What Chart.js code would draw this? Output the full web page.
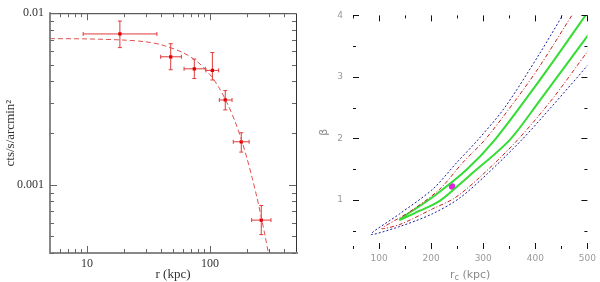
<!DOCTYPE html>
<html><head><meta charset="utf-8">
<script src="https://cdn.jsdelivr.net/npm/chart.js@4/dist/chart.umd.min.js"></script>
<style>
html,body{margin:0;padding:0;background:#fff;width:600px;height:282px;overflow:hidden}
canvas{position:absolute;top:0}
#l{left:0}
#r{left:300px}
</style></head><body>
<canvas id="l" width="300" height="282"></canvas>
<canvas id="r" width="300" height="282"></canvas>
<script>
// ---------- Left panel: surface brightness profile ----------
const rKpc   = [18.5, 47.9, 74.5, 104.5, 133, 179.5, 261];
const rLow   = [9.3, 39.7, 61.5, 92.7, 119, 154.5, 218];
const rHigh  = [37, 58.5, 91.6, 117.5, 151, 208, 313];
const sb     = [0.00757, 0.00557, 0.00474, 0.00464, 0.00312, 0.00178, 0.000622];
const sbLow  = [0.0063, 0.00468, 0.00416, 0.00408, 0.00273, 0.00155, 0.000512];
const sbHigh = [0.0090, 0.00664, 0.0054, 0.0059, 0.00354, 0.00201, 0.000757];

const modelR  = [5, 10, 20, 30, 40, 60, 80, 100, 120, 140, 160, 180, 200, 220, 240, 260, 280, 300];
const modelSb = [0.00711, 0.00708, 0.00697, 0.00681, 0.00655, 0.00590, 0.00517, 0.00438, 0.00362, 0.00292, 0.00233, 0.00183, 0.00142, 0.00110, 0.00085, 0.000655, 0.000505, 0.000391];

const leftXMajor = [10, 100];
const leftXMajorLabels = ['10', '100'];
const leftXMinor = [6, 7, 8, 9, 20, 30, 40, 50, 60, 70, 80, 90, 200, 300, 400];
const leftYMajor = [0.001, 0.01];
const leftYMajorLabels = ['0.001', '0.01'];
const leftYMinor = [0.0004, 0.0005, 0.0006, 0.0007, 0.0008, 0.0009, 0.002, 0.003, 0.004, 0.005, 0.006, 0.007, 0.008, 0.009];

// ---------- Right panel: rc - beta confidence contours ----------
const blueX  = [457.9, 408.1, 341.1, 289.4, 249.1, 203.2, 140.0, 84.5, 140.0, 203.2, 254.9, 306.6, 373.6, 433.0, 500.0, 523.0];
const blueY  = [4.08, 3.377, 2.499, 1.972, 1.605, 1.174, 0.775, 0.44, 0.567, 0.775, 1.03, 1.413, 1.972, 2.531, 3.186, 3.44];
const redX   = [479.0, 408.1, 364.0, 302.8, 260.6, 216.6, 159.1, 105.5, 140.0, 203.2, 245.3, 293.2, 364.0, 433.0, 500.0, 523.0];
const redY   = [4.12, 3.17, 2.643, 1.972, 1.605, 1.174, 0.807, 0.535, 0.599, 0.855, 1.03, 1.366, 1.956, 2.643, 3.409, 3.649];
const greenX = [507.0, 460.0, 394.7, 321.9, 268.3, 203.2, 140.0, 178.3, 216.6, 274.0, 350.6, 408.1, 500.0, 523.0];
const greenY = [4.13, 3.56, 2.787, 1.972, 1.493, 1.046, 0.679, 0.823, 0.982, 1.397, 1.972, 2.611, 3.665, 3.95];
const bestRc = [240.2];
const bestBeta = [1.217];

const rightXMajor = [100, 200, 300, 400, 500];
const rightXMajorLabels = ['100', '200', '300', '400', '500'];
const rightXMinor = [50, 150, 250, 350, 450];
const rightYMajor = [1, 2, 3, 4];
const rightYMajorLabels = ['1', '2', '3', '4'];
const rightYMinor = [0.5, 1.5, 2.5, 3.5];

const pts = (xs, ys) => xs.map((v, i) => ({x: v, y: ys[i]}));

function tickPlugin(cfg) {
  return {
    id: 'ticks_' + cfg.name,
    afterDatasetsDraw(chart) {
      const {ctx, chartArea: a, scales: {x, y}} = chart;
      ctx.save();
      if (cfg.frame) {
        ctx.lineCap = 'square';
        ctx.strokeStyle = '#333'; ctx.lineWidth = 1;
        ctx.beginPath();
        ctx.moveTo(a.left, a.top + 0.5); ctx.lineTo(a.right + 0.5, a.top + 0.5);
        ctx.lineTo(a.right + 0.5, a.bottom);
        ctx.stroke();
        ctx.strokeStyle = '#888'; ctx.lineWidth = 2;
        ctx.beginPath();
        ctx.moveTo(a.left, a.top); ctx.lineTo(a.left, a.bottom); ctx.lineTo(a.right + 1, a.bottom);
        ctx.stroke();
      }
      ctx.strokeStyle = cfg.color; ctx.lineWidth = 1; ctx.lineCap = 'butt';
      const dx = (vals, len) => vals.forEach(v => {
        const p = Math.round(x.getPixelForValue(v)) + 0.5;
        ctx.beginPath();
        ctx.moveTo(p, a.bottom); ctx.lineTo(p, a.bottom - len);
        ctx.moveTo(p, a.top); ctx.lineTo(p, a.top + len);
        ctx.stroke();
      });
      const dy = (vals, len) => vals.forEach(v => {
        const p = Math.round(y.getPixelForValue(v)) + 0.5;
        ctx.beginPath();
        ctx.moveTo(a.left, p); ctx.lineTo(a.left + len, p);
        ctx.moveTo(a.right, p); ctx.lineTo(a.right - len, p);
        ctx.stroke();
      });
      dx(cfg.xMajor, cfg.majorLen); dx(cfg.xMinor, cfg.minorLen);
      dy(cfg.yMajor, cfg.majorLen); dy(cfg.yMinor, cfg.minorLen);
      ctx.restore();
    }
  };
}

const errorBarPlugin = {
  id: 'errbars',
  beforeDatasetsDraw(chart) {
    const {ctx, scales: {x, y}, chartArea: a} = chart;
    ctx.save();
    ctx.beginPath(); ctx.rect(a.left, a.top, a.right - a.left, a.bottom - a.top); ctx.clip();
    ctx.strokeStyle = '#e03a3a'; ctx.lineWidth = 1;
    rKpc.forEach((r, i) => {
      const px = x.getPixelForValue(r), py = y.getPixelForValue(sb[i]);
      const x0 = x.getPixelForValue(rLow[i]), x1 = x.getPixelForValue(rHigh[i]);
      const y0 = y.getPixelForValue(sbLow[i]), y1 = y.getPixelForValue(sbHigh[i]);
      const c = 2;
      ctx.beginPath();
      ctx.moveTo(x0, py); ctx.lineTo(x1, py);
      ctx.moveTo(x0, py - c); ctx.lineTo(x0, py + c);
      ctx.moveTo(x1, py - c); ctx.lineTo(x1, py + c);
      ctx.moveTo(px, y0); ctx.lineTo(px, y1);
      ctx.moveTo(px - c, y0); ctx.lineTo(px + c, y0);
      ctx.moveTo(px - c, y1); ctx.lineTo(px + c, y1);
      ctx.stroke();
    });
    ctx.restore();
  }
};

const serif = 'Liberation Serif';

new Chart(document.getElementById('l'), {
  type: 'scatter',
  data: {
    datasets: [
      { data: pts(modelR, modelSb), showLine: true, borderColor: '#e05050', borderWidth: 1,
        borderDash: [5, 3], pointRadius: 0, tension: 0.3, fill: false },
      { data: pts(rKpc, sb), showLine: false, pointStyle: 'rect', pointRadius: 2.3,
        backgroundColor: '#e00000', borderColor: '#e00000', borderWidth: 0 }
    ]
  },
  options: {
    responsive: false, animation: false, devicePixelRatio: 1,
    layout: {padding: {top: 7, right: 3, left: 0, bottom: 0}},
    plugins: {legend: {display: false}, tooltip: {enabled: false}},
    scales: {
      x: {
        type: 'logarithmic', min: 5, max: 500, position: 'bottom',
        afterBuildTicks: s => { s.ticks = leftXMajor.map(v => ({value: v})); },
        afterFit: s => { s.height = 29; },
        grid: {display: false, drawTicks: false}, border: {display: false},
        ticks: {autoSkip: false, maxRotation: 0, padding: 4, color: '#333',
          font: {family: serif, size: 12},
          callback: v => { const i = leftXMajor.indexOf(v); return i >= 0 ? leftXMajorLabels[i] : ''; }},
        title: {display: true, text: 'r (kpc)', color: '#333', font: {family: serif, size: 13},
          padding: {top: 0, bottom: 0}}
      },
      y: {
        type: 'logarithmic', min: 0.0004, max: 0.01, position: 'left',
        afterBuildTicks: s => { s.ticks = leftYMajor.map(v => ({value: v})); },
        afterFit: s => { s.width = 50; },
        grid: {display: false, drawTicks: false}, border: {display: false},
        ticks: {autoSkip: false, padding: 6, color: '#333', font: {family: serif, size: 12},
          callback: v => { const i = leftYMajor.indexOf(v); return i >= 0 ? leftYMajorLabels[i] : ''; }},
        title: {display: true, text: 'cts/s/arcmin²', color: '#333', font: {family: serif, size: 13},
          padding: {top: 3, bottom: 0}}
      }
    }
  },
  plugins: [errorBarPlugin, tickPlugin({name: 'l', frame: true, color: '#666', majorLen: 7, minorLen: 4,
    xMajor: leftXMajor, xMinor: leftXMinor, yMajor: leftYMajor, yMinor: leftYMinor})]
});

const rightTitlePlugin = {
  id: 'rtitle',
  afterDraw(chart) {
    const {ctx, chartArea: a} = chart;
    ctx.save();
    ctx.fillStyle = '#8a8a8a';
    ctx.textBaseline = 'middle';
    const f1 = '11px "DejaVu Sans"', f2 = '8px "DejaVu Sans"';
    ctx.font = f1; const w1 = ctx.measureText('r').width; const w3 = ctx.measureText(' (kpc)').width;
    ctx.font = f2; const w2 = ctx.measureText('c').width;
    const cx = (a.left + a.right) / 2, yy = 275;
    let x0 = cx - (w1 + w2 + w3) / 2;
    ctx.textAlign = 'left';
    ctx.font = f1; ctx.fillText('r', x0, yy);
    ctx.font = f2; ctx.fillText('c', x0 + w1, yy + 3);
    ctx.font = f1; ctx.fillText(' (kpc)', x0 + w1 + w2, yy);
    ctx.restore();
  }
};

new Chart(document.getElementById('r'), {
  type: 'scatter',
  data: {
    datasets: [
      { data: pts(blueX, blueY), showLine: true, borderColor: '#1c1ca0', borderWidth: 1,
        borderDash: [2, 2], pointRadius: 0, tension: 0.3 },
      { data: pts(redX, redY), showLine: true, borderColor: '#c82020', borderWidth: 1,
        borderDash: [4, 2, 1, 2], pointRadius: 0, tension: 0.3 },
      { data: pts(greenX, greenY), showLine: true, borderColor: '#34dc34', borderWidth: 2,
        pointRadius: 0, tension: 0.3 },
      { data: pts(bestRc, bestBeta), showLine: false, pointRadius: 3.2,
        backgroundColor: '#e020e0', borderColor: '#e020e0', borderWidth: 0 }
    ]
  },
  options: {
    responsive: false, animation: false, devicePixelRatio: 1,
    layout: {padding: {top: 11, right: 12, left: 0, bottom: 0}},
    plugins: {legend: {display: false}, tooltip: {enabled: false}},
    scales: {
      x: {
        type: 'linear', min: 50, max: 500, position: 'bottom',
        afterBuildTicks: s => { s.ticks = rightXMajor.map(v => ({value: v})); },
        afterFit: s => { s.height = 33; },
        grid: {display: false, drawTicks: false}, border: {display: false},
        ticks: {autoSkip: false, maxRotation: 0, padding: 4, color: '#9a9a9a',
          font: {family: 'DejaVu Sans', size: 9},
          callback: v => { const i = rightXMajor.indexOf(v); return i >= 0 ? rightXMajorLabels[i] : ''; }}
      },
      y: {
        type: 'linear', min: 0.2, max: 4, position: 'left',
        afterBuildTicks: s => { s.ticks = rightYMajor.map(v => ({value: v})); },
        afterFit: s => { s.width = 53; },
        grid: {display: false, drawTicks: false}, border: {display: false},
        ticks: {autoSkip: false, padding: 10, color: '#9a9a9a', font: {family: 'DejaVu Sans', size: 9},
          callback: v => { const i = rightYMajor.indexOf(v); return i >= 0 ? rightYMajorLabels[i] : ''; }},
        title: {display: true, text: 'β', color: '#8a8a8a', font: {family: 'DejaVu Sans', size: 11},
          padding: {top: 18, bottom: 0}}
      }
    }
  },
  plugins: [rightTitlePlugin, tickPlugin({name: 'r', frame: false, color: '#111', majorLen: 6, minorLen: 3,
    xMajor: rightXMajor, xMinor: rightXMinor, yMajor: rightYMajor, yMinor: rightYMinor})]
});
</script>
</body></html>
